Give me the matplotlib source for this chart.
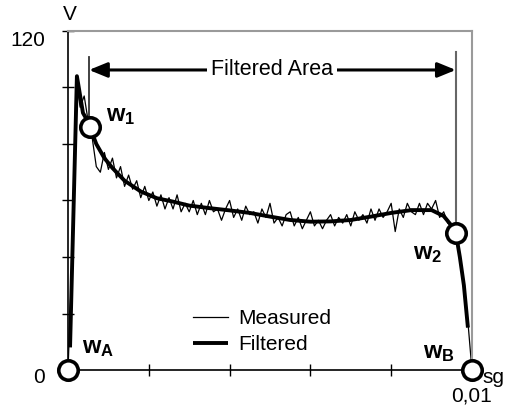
import numpy as np
import matplotlib.pyplot as plt

# ----------------------------
# Data
# ----------------------------
# measured signal, sampled every 0.0001 s from 0 to 0.01 s
measured = [0, 40, 103, 93, 97, 88, 82, 72, 70, 77,
            71, 75, 68, 72, 65, 69, 64, 67, 61, 65,
            60, 63, 58, 62, 57, 61, 57, 62, 56, 59,
            56, 60, 55, 59, 55, 60, 56, 57, 53, 57,
            60, 54, 57, 53, 58, 55, 56, 52, 57, 54,
            59, 52, 54, 51, 55, 56, 51, 54, 50, 53,
            56, 51, 53, 50, 53, 55, 51, 54, 52, 55,
            51, 56, 53, 55, 52, 57, 53, 57, 54, 56,
            59, 49, 57, 54, 59, 56, 55, 59, 55, 59,
            57, 60, 54, 56, 52, 51, 48.5, 41, 30, 17,
            0]
dt = 0.0001

# filtered curve
t_filt = [0.00005, 0.00022, 0.00037, 0.00045, 0.00054, 0.0007, 0.0009, 0.0011,
          0.0014, 0.0018, 0.0022, 0.0026, 0.003, 0.0035, 0.004, 0.0045,
          0.005, 0.0055, 0.006, 0.0065, 0.007, 0.0075, 0.008, 0.0085,
          0.009, 0.0093, 0.0095, 0.0096, 0.0097, 0.0098, 0.0099]
v_filt = [8, 104, 91, 89, 86, 80, 75, 71.5,
          67, 63.2, 60.8, 59.6, 58.2, 57.3, 56.5, 55.6,
          54.3, 53.1, 52.5, 52.6, 53.1, 54.3, 55.6, 56.6,
          56.6, 54.5, 51, 48.5, 40, 30, 15]

# marked points
pt_names = ["A", "1", "2", "B"]
pt_t = [0.0, 0.00054, 0.0096, 0.01]
pt_v = [0.0, 86, 48.5, 0.0]

area_start, area_end = 0.00052, 0.0096

plt.rcParams['font.family'] = ['Liberation Sans', 'DejaVu Sans']
plt.rcParams['mathtext.fontset'] = 'custom'
plt.rcParams['mathtext.bf'] = 'Liberation Sans:bold'
plt.rcParams['mathtext.rm'] = 'Liberation Sans'

fig = plt.figure(figsize=(5.13, 4.05), dpi=100)
ax = fig.add_axes([0.1326, 0.0864, 0.7874, 0.8371])

t_meas = np.arange(len(measured)) * dt
ax.plot(t_meas, measured, color='black', lw=0.9, label='Measured')
ax.plot(t_filt, v_filt, color='black', lw=2.8, label='Filtered', solid_capstyle='butt')

ax.set_xlim(0, 0.01)
ax.set_ylim(0, 120)
ax.set_xticks(np.arange(0, 0.0101, 0.002))
ax.set_yticks(np.arange(0, 121, 20))
ax.set_xticklabels([])
ax.set_yticklabels([])
ax.tick_params(direction='inout', length=8, width=1, color='black')

for s in ['top', 'right']:
    ax.spines[s].set_color('#9a9a9a')
    ax.spines[s].set_linewidth(1.5)
for s in ['left', 'bottom']:
    ax.spines[s].set_color('black')
    ax.spines[s].set_linewidth(1.2)

# filtered area markers
ax.plot([area_start, area_start], [110.8, 89.6], color='#333333', lw=1.3)
ax.plot([area_end, area_end], [112.6, 51.3], color='#666666', lw=1.5)
ax.annotate('', xy=(area_start, 106.2), xytext=(area_end, 106.2),
            arrowprops=dict(arrowstyle='<|-|>,head_length=1.1,head_width=0.45',
                            color='black', lw=2.2, shrinkA=0, shrinkB=0))
ax.text(0.00505, 106.2, 'Filtered Area', ha='center',
        va='center', fontsize=15.5,
        bbox=dict(facecolor='white', edgecolor='none', pad=3))

# point circles
ax.plot(pt_t, pt_v, 'o', ms=14, mfc='white', mec='black', mew=2.6,
        clip_on=False, zorder=5)

lbl_pos = [(0.00035, 7.8), (0.00095, 90), (0.00855, 41), (0.00878, 6)]
for name, (x, y) in zip(pt_names, lbl_pos):
    ax.text(x, y, r'$\mathbf{w_{%s}}$' % name, fontsize=17, va='center', ha='left')

# axis texts
ax.text(-0.00057, 116.8, '120', ha='right', va='center', fontsize=15)
ax.text(-0.00057, -2.5, '0', ha='right', va='center', fontsize=15)
ax.text(0.00005, 126, 'V', ha='center', va='center', fontsize=15)
ax.text(0.01052, -2.5, 'sg', ha='center', va='center', fontsize=15)
ax.text(0.01, -9.2, '0,01', ha='center', va='center', fontsize=15)

ax.legend(loc='upper left', bbox_to_anchor=(0.309, 0.18), frameon=False,
          fontsize=15, handlelength=1.7, handletextpad=0.5, labelspacing=0.35,
          borderpad=0, borderaxespad=0)

fig.savefig('out.png', dpi=100)
